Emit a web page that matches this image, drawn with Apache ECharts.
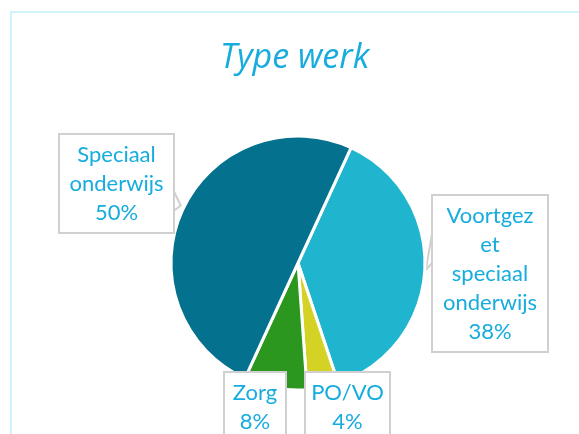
<!DOCTYPE html>
<html>
<head>
	<meta charset="UTF-8">
	<title>Type werk</title>
	<style>
		html,body{margin:0;padding:0;background:#fff;}
		#mychart{width:579px;height:434px;}
	</style>
</head>
<body>
	<div id="mychart"></div>
<script type="text/javascript" src="https://cdn.jsdelivr.net/npm/echarts@6/dist/echarts.min.js"></script>
<script type="text/javascript">
	// data, clockwise from the first slice
	var categories = ['Voortgezet speciaal onderwijs', 'PO/VO', 'Zorg', 'Speciaal onderwijs'];
	var values = [38, 4, 8, 50];
	// text as wrapped in the label boxes
	var labelTexts = ['Voortgez\net\nspeciaal\nonderwijs', 'PO/VO', 'Zorg', 'Speciaal\nonderwijs'];
	var colors = ['#1FB5CE', '#D5D226', '#2C971F', '#04718E'];

	// label box placement: [center x, top y, content width, callout side]
	var boxes = [
		[490, 196, 102, 'left'],
		[347.5, 373, 71, ''],
		[255, 373, 48, ''],
		[116.5, 135, 101, 'right']
	];
	var padH = 6, padV = 5;
	var pieCenter = [298, 263], pieRadius = 127, startAngle = 65.3;

	var myChart = echarts.init(document.getElementById('mychart'));
	var textColor = '#17ACDE';

	var total = 0;
	for (var k = 0; k < values.length; k++) total += values[k];

	// point on the pie edge at the middle of a slice (callout tip)
	function tipPoint(idx) {
		var cum = 0;
		for (var j = 0; j < idx; j++) cum += values[j];
		var a = (startAngle - 360 * (cum + values[idx] / 2) / total) * Math.PI / 180;
		return [pieCenter[0] + (pieRadius + 1) * Math.cos(a), pieCenter[1] - (pieRadius + 1) * Math.sin(a)];
	}

	var pieData = [];
	for (var i = 0; i < categories.length; i++) {
		pieData.push({
			name: categories[i],
			value: values[i],
			itemStyle: { color: colors[i] },
			label: { width: boxes[i][2] },
			labelLine: { show: boxes[i][3] !== '' }
		});
	}

	var option = {
		animation: false,
		graphic: [{
			type: 'rect',
			shape: { x: 11, y: 12, width: 700, height: 600 },
			style: { fill: 'none', stroke: '#BDF0FB', lineWidth: 1.5 },
			z: -1
		}],
		title: {
			text: 'Type werk',
			left: 215,
			top: 36,
			textStyle: {
				fontFamily: 'Open Sans',
				fontStyle: 'italic',
				fontWeight: 'normal',
				fontSize: 34,
				color: textColor
			}
		},
		series: [{
			type: 'pie',
			center: pieCenter,
			radius: pieRadius,
			startAngle: startAngle,
			clockwise: true,
			avoidLabelOverlap: false,
			itemStyle: { borderColor: '#fff', borderWidth: 3 },
			label: {
				show: true,
				position: 'outside',
				formatter: function (p) {
					return labelTexts[p.dataIndex] + '\n' + Math.round(p.percent) + '%';
				},
				fontFamily: 'Lato',
				fontSize: 22,
				lineHeight: 29,
				color: textColor,
				align: 'center',
				overflow: 'none',
				backgroundColor: '#fff',
				borderColor: '#D0D0D0',
				borderWidth: 2,
				padding: [padV, padH]
			},
			labelLine: {
				show: true,
				length: 0,
				length2: 0,
				smooth: false,
				lineStyle: { color: '#D0D0D0', width: 2 }
			},
			labelLayout: function (params) {
				var idx = params.dataIndex;
				var b = boxes[idx];
				var res = { x: b[0], y: b[1], align: 'center', verticalAlign: 'top' };
				if (b[3] !== '') {
					var t = tipPoint(idx);
					var half = b[2] / 2 + padH;
					var ex = b[3] === 'right' ? b[0] + half : b[0] - half;
					if (b[3] === 'right') {
						res.labelLinePoints = [[ex, t[1] - 20], [t[0] - 1, t[1] - 4], [ex, t[1] + 2]];
					} else {
						res.labelLinePoints = [[ex, t[1] - 42], [t[0], t[1]], [ex, t[1] - 8]];
					}
				}
				return res;
			},
			emphasis: { disabled: true },
			data: pieData
		}]
	};
	myChart.setOption(option);
	window.onresize = myChart.resize;
</script>
</body>
</html>
